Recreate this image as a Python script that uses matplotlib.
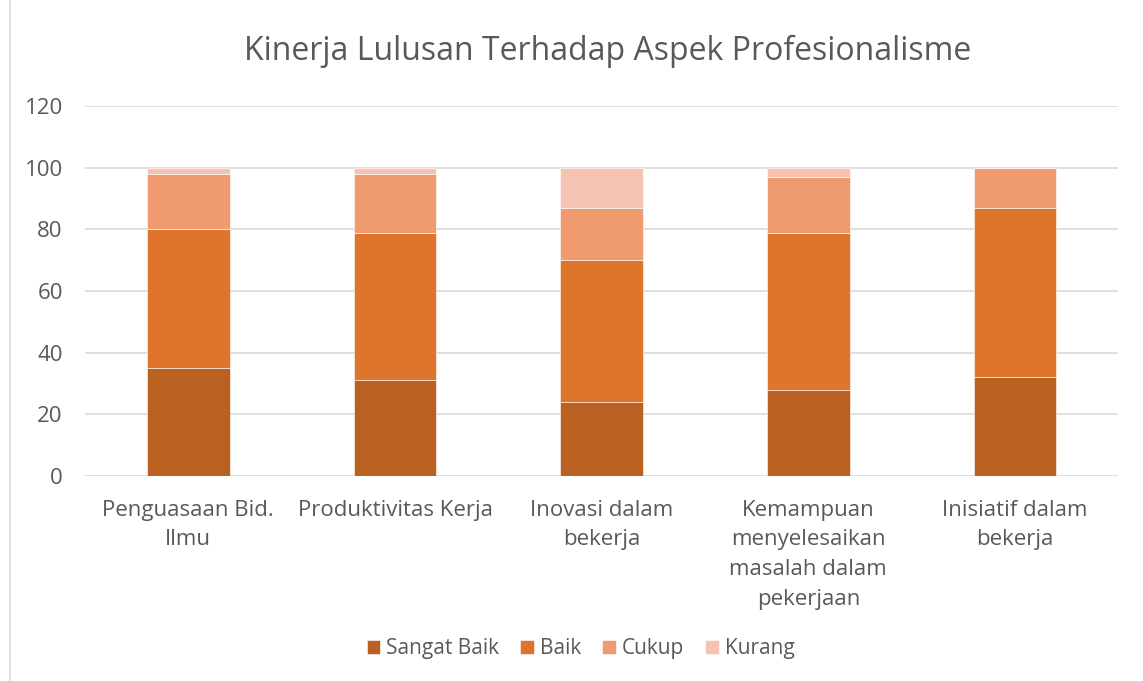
import matplotlib.pyplot as plt
import numpy as np
from matplotlib.lines import Line2D

plt.rcParams['font.family'] = ['Open Sans', 'DejaVu Sans']

categories = ['Penguasaan Bid.\nIlmu', 'Produktivitas Kerja', 'Inovasi dalam\nbekerja',
              'Kemampuan\nmenyelesaikan\nmasalah dalam\npekerjaan', 'Inisiatif dalam\nbekerja']
sangat_baik = [35, 31, 24, 28, 32]
baik = [45, 48, 46, 51, 55]
cukup = [18, 19, 17, 18, 13]
kurang = [2, 2, 13, 3, 0]

series = [('Sangat Baik', sangat_baik, '#BA6122'),
          ('Baik', baik, '#DF742C'),
          ('Cukup', cukup, '#F09A6F'),
          ('Kurang', kurang, '#F6C2B1')]

fig = plt.figure(figsize=(11.43, 6.81), dpi=100)
ax = fig.add_axes([0.0744, 0.301, 0.904, 0.543])

x = np.arange(len(categories))
bottom = np.zeros(len(categories))
for name, vals, col in series:
    ax.bar(x, vals, 0.4, bottom=bottom, color=col, label=name,
           edgecolor='white', linewidth=0.4, zorder=3)
    bottom += np.array(vals)

ax.set_xlim(-0.5, len(categories) - 0.5)
ax.set_ylim(0, 120)
ax.set_yticks(range(0, 121, 20))
ax.yaxis.grid(True, color='#d9d9d9', linewidth=1.2, zorder=0)
for s in ax.spines.values():
    s.set_visible(False)
ax.tick_params(axis='both', length=0, colors='#595959', labelsize=16)
ax.tick_params(axis='y', pad=16)
ax.tick_params(axis='x', pad=17)
ax.set_xticks(x)
ax.set_xticklabels(categories, linespacing=1.55)

fig.text(0.532, 0.924, 'Kinerja Lulusan Terhadap Aspek Profesionalisme',
         ha='center', va='center', fontsize=23, color='#595959')

ax.legend(loc='center', bbox_to_anchor=(0.508, 0.0474), bbox_transform=fig.transFigure,
          ncol=4, frameon=False, fontsize=15, labelcolor='#595959',
          handlelength=0.65, handleheight=0.65, handletextpad=0.3, columnspacing=1.0)

fig.add_artist(Line2D([10 / 1143, 10 / 1143], [0, 1], color='#d9d9d9', linewidth=1.2,
                      transform=fig.transFigure))

fig.savefig('out.png', dpi=100)
